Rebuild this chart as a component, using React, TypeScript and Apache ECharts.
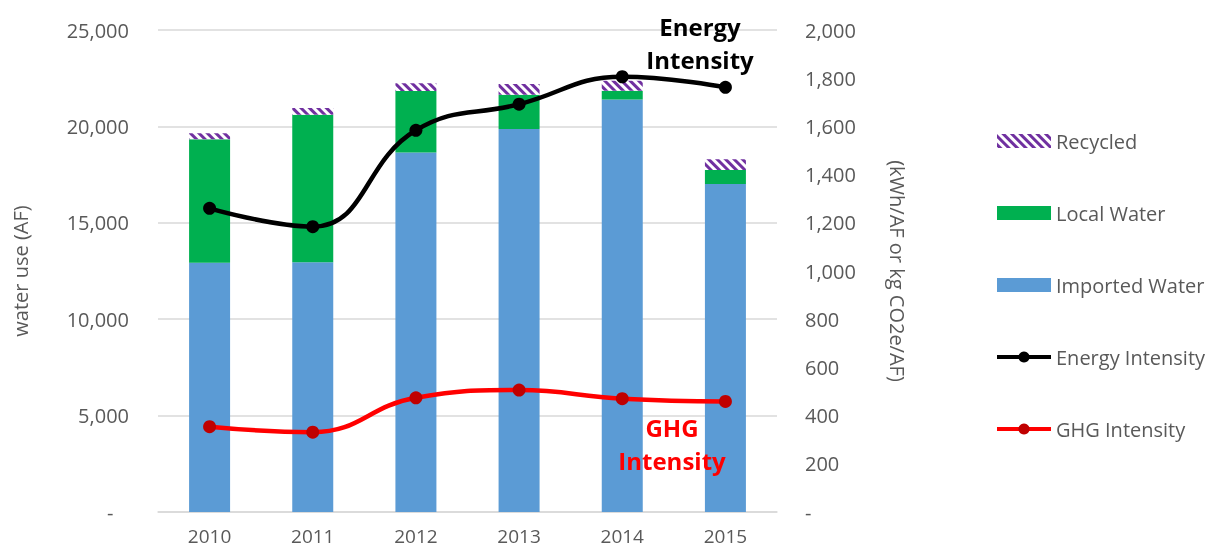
import React, { useEffect, useRef } from "react";
import * as echarts from "echarts";

const years = ["2010", "2011", "2012", "2013", "2014", "2015"];
const importedWater = [12930, 12950, 18640, 19870, 21400, 17010];
const localWater = [6400, 7650, 3200, 1770, 450, 730];
const recycled = [310, 360, 400, 560, 520, 550];
const energyIntensity = [1260, 1184, 1584, 1692, 1806, 1762];
const ghgIntensity = [354, 331, 474, 506, 470, 459];

const FONT = "'Open Sans', 'Noto Sans', sans-serif";
const GREY = "#595959";

export default function App() {
  const ref = useRef<HTMLDivElement>(null);
  useEffect(() => {
    if (!ref.current) return;
    const chart = echarts.init(ref.current, null, { renderer: "svg" });
    chart.setOption({
      animation: false,
      textStyle: { fontFamily: FONT },
      grid: {
        left: 158,
        right: 431,
        top: 30,
        bottom: 38,
        containLabel: false,
        outerBoundsMode: "none",
      },
      legend: {
        orient: "vertical",
        left: 990,
        top: 126,
        itemGap: 52,
        itemWidth: 54,
        itemHeight: 14,
        textStyle: { fontSize: 20, color: GREY, fontFamily: FONT },
        data: [
          { name: "Recycled", icon: "rect" },
          { name: "Local Water", icon: "rect" },
          { name: "Imported Water", icon: "rect" },
          { name: "Energy Intensity", lineStyle: { width: 4, color: "#000000" } },
          { name: "GHG Intensity", lineStyle: { width: 4, color: "#FF0000" } },
        ],
      },
      xAxis: {
        type: "category",
        data: years,
        axisLine: { lineStyle: { color: "#D9D9D9", width: 1.5 } },
        axisTick: { show: false },
        axisLabel: { fontSize: 19, lineHeight: 19, color: GREY, margin: 14 },
      },
      yAxis: [
        {
          type: "value",
          min: 0,
          max: 25000,
          interval: 5000,
          name: "water use (AF)",
          nameLocation: "middle",
          nameGap: 128,
          nameRotate: 90,
          nameTextStyle: { fontSize: 20, color: GREY },
          axisLine: { show: false },
          axisTick: { show: false },
          splitLine: { lineStyle: { color: "#D9D9D9", width: 1.5 } },
          axisLabel: {
            fontSize: 20,
            color: GREY,
            margin: 29,
            formatter: (v: number) => (v === 0 ? "-\u00a0\u00a0\u00a0" : v.toLocaleString("en-US")),
          },
        },
        {
          type: "value",
          min: 0,
          max: 2000,
          interval: 200,
          name: "(kWh/AF or kg CO2e/AF)",
          nameLocation: "middle",
          nameGap: 110,
          nameRotate: -90,
          nameTextStyle: { fontSize: 20, color: GREY },
          axisLine: { show: false },
          axisTick: { show: false },
          splitLine: { show: false },
          axisLabel: {
            fontSize: 20,
            color: GREY,
            margin: 28,
            formatter: (v: number) => (v === 0 ? "-" : v.toLocaleString("en-US")),
          },
        },
      ],
      series: [
        {
          name: "Imported Water",
          type: "bar",
          stack: "water",
          barWidth: 41,
          data: importedWater,
          itemStyle: { color: "#5B9BD5" },
        },
        {
          name: "Local Water",
          type: "bar",
          stack: "water",
          data: localWater,
          itemStyle: { color: "#00B050" },
        },
        {
          name: "Recycled",
          type: "bar",
          stack: "water",
          data: recycled,
          itemStyle: {
            color: "#FFFFFF",
            decal: {
              symbol: "rect",
              color: "#7030A0",
              dashArrayX: [1, 0],
              dashArrayY: [3, 3],
              rotation: Math.PI / 4,
              symbolSize: 1,
            },
          },
        },
        {
          name: "Energy Intensity",
          type: "line",
          yAxisIndex: 1,
          smooth: 0.45,
          data: energyIntensity,
          symbol: "circle",
          symbolSize: 13,
          lineStyle: { color: "#000000", width: 4.5 },
          itemStyle: { color: "#000000" },
        },
        {
          name: "GHG Intensity",
          type: "line",
          yAxisIndex: 1,
          smooth: 0.45,
          data: ghgIntensity,
          symbol: "circle",
          symbolSize: 13,
          lineStyle: { color: "#FF0000", width: 4.5 },
          itemStyle: { color: "#C00000" },
        },
      ],
      graphic: [
        {
          type: "text",
          x: 700,
          y: 10,
          z: 100,
          style: {
            text: "Energy\nIntensity",
            font: `bold 24px ${FONT}`,
            fill: "#000000",
            align: "center",
            verticalAlign: "top",
            lineHeight: 33,
          },
        },
        {
          type: "text",
          x: 672,
          y: 411,
          z: 100,
          style: {
            text: "GHG\nIntensity",
            font: `bold 24px ${FONT}`,
            fill: "#FF0000",
            align: "center",
            verticalAlign: "top",
            lineHeight: 33,
          },
        },
      ],
    });
    return () => chart.dispose();
  }, []);
  return (
    <div
      ref={ref}
      style={{ position: "fixed", left: 0, top: 0, width: 1208, height: 550 }}
    />
  );
}
